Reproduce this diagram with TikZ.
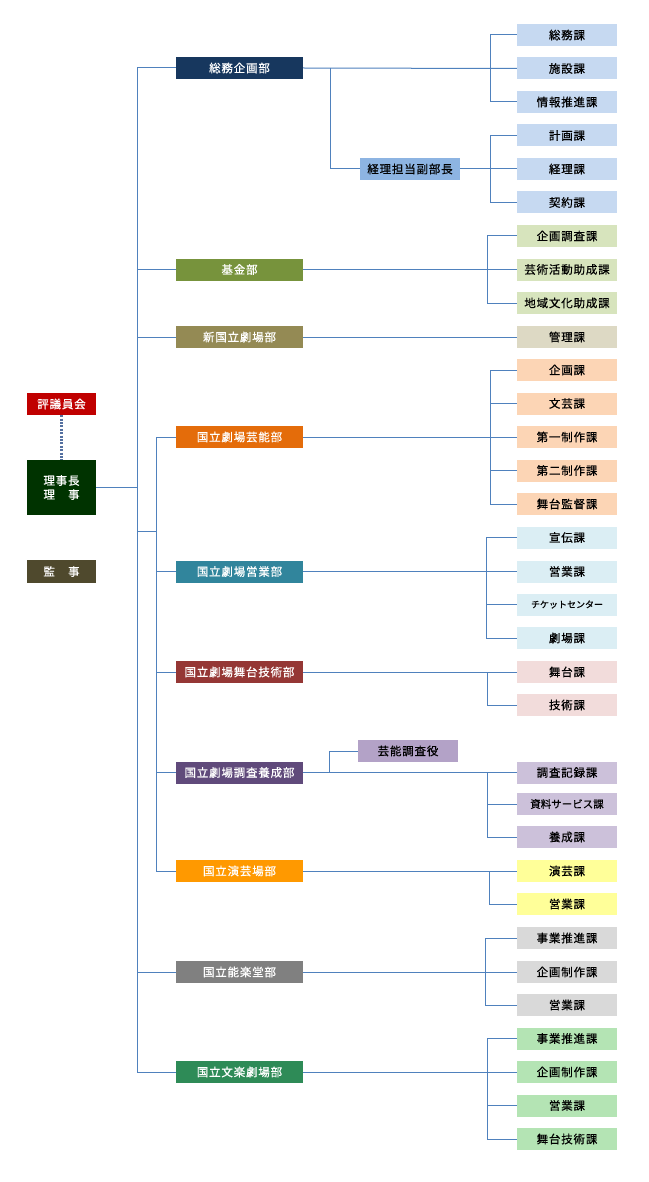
\documentclass[tikz,border=0pt]{standalone}
\usepackage{fontspec}
\newfontfamily\jp{Noto Sans CJK JP}[LetterSpace=7, FakeBold=0.5]
\newfontfamily\jpnarrow{Noto Sans CJK JP}[FakeBold=0.5]
\definecolor{linkblue}{RGB}{79,129,189}
\definecolor{dotblue}{RGB}{84,112,160}
\tikzset{
    dept/.style={minimum width=127pt, minimum height=22pt, inner sep=0pt, text=white, font=\jp\fontsize{11.5}{13}\selectfont},
    sect/.style={minimum width=100pt, minimum height=22pt, inner sep=0pt, text=black, font=\jp\fontsize{11.5}{13}\selectfont},
    top/.style={minimum width=69pt, inner sep=0pt, text=white, font=\jp\fontsize{11.5}{14}\selectfont, align=center},
    link/.style={draw=linkblue, line width=1pt},
}
\begin{document}
\begin{tikzpicture}[x=1pt, y=-1pt]
    \useasboundingbox[fill=white] (0,0) rectangle (648,1182);
    % Left column
    \node[top, fill={rgb,255:red,192;green,0;blue,0}, minimum height=22pt] (hyogi) at (61.5,404) {評議員会};
    \node[top, fill={rgb,255:red,0;green,51;blue,0}, minimum height=55pt] (riji) at (61.5,487.5) {理事長\\理　事};
    \node[top, fill={rgb,255:red,79;green,73;blue,45}, minimum height=23pt] (kanji) at (61.5,571.5) {監　事};
    \draw[dotblue, line width=2.2pt, dash pattern=on 2pt off 1.4pt] (hyogi.south) -- (riji.north);
    % Departments
    \foreach \name/\y/\r/\g/\b/\txt in {
        somu/68/23/55/94/総務企画部,
        kikin/269.5/119/147/60/基金部,
        shinkoku/337/148/138/84/新国立劇場部,
        geino/437/228/108/10/国立劇場芸能部,
        eigyo/571.5/49/133/156/国立劇場営業部,
        butai/672/149/55/53/国立劇場舞台技術部,
        chosa/772.5/96/74/123/国立劇場調査養成部,
        engei/871/255/153/0/国立演芸場部,
        nogaku/972/128/128/128/国立能楽堂部,
        bunraku/1072/46/139/87/国立文楽劇場部} {
        \node[dept, fill={rgb,255:red,\r;green,\g;blue,\b}] (\name) at (239.5,\y) {\txt};
    }
    \node[sect, fill={rgb,255:red,141;green,180;blue,226}] (fukubu) at (410,169) {経理担当副部長};
    \node[sect, fill={rgb,255:red,179;green,162;blue,199}] (chosayaku) at (408,751) {芸能調査役};
    % Sections
    \foreach \name/\y/\r/\g/\b/\txt in {
        s1/35/198/217/241/総務課, s2/68.5/198/217/241/施設課, s3/102/198/217/241/情報推進課,
        s4/135.5/198/217/241/計画課, s5/169/198/217/241/経理課, s6/202.5/198/217/241/契約課,
        s7/236/215/228/189/企画調査課, s8/269.5/215/228/189/芸術活動助成課, s9/303/215/228/189/地域文化助成課,
        s10/337/221/217/196/管理課,
        s11/370/252/213/181/企画課, s12/403.5/252/213/181/文芸課, s13/437/252/213/181/第一制作課,
        s14/470.5/252/213/181/第二制作課, s15/504/252/213/181/舞台監督課,
        s16/537.5/219/238/244/宣伝課, s17/571.5/219/238/244/営業課, s19/638/219/238/244/劇場課,
        s20/672/242/220/219/舞台課, s21/705/242/220/219/技術課,
        s22/772.5/204/193/218/調査記録課, s24/837/204/193/218/養成課,
        s25/871/255/255/153/演芸課, s26/904/255/255/153/営業課,
        s27/938/217/217/217/事業推進課, s28/972/217/217/217/企画制作課, s29/1005/217/217/217/営業課,
        s30/1038.5/180/228/180/事業推進課, s31/1072/180/228/180/企画制作課,
        s32/1105.5/180/228/180/営業課, s33/1139/180/228/180/舞台技術課} {
        \node[sect, fill={rgb,255:red,\r;green,\g;blue,\b}] (\name) at (567,\y) {\txt};
    }
    \node[sect, fill={rgb,255:red,219;green,238;blue,244}, font=\jpnarrow\fontsize{9}{10}\selectfont] (s18) at (567,604.5) {チケットセンター};
    \node[sect, fill={rgb,255:red,204;green,193;blue,218}, font=\jpnarrow\fontsize{10.5}{12}\selectfont] (s23) at (567,804) {資料サービス課};
    % Trunk
    \draw[link] (somu.west) -- ++(-38,0) coordinate (trunk) |- (bunraku.west);
    \foreach \d in {kikin, shinkoku, nogaku} {
        \draw[link] (\d.west) -- (\d.west -| trunk);
    }
    \draw[link] (riji.east) -- (riji.east -| trunk);
    \draw[link] (geino.west) -- ++(-19,0) coordinate (subtrunk) |- (engei.west);
    \foreach \d in {eigyo, butai, chosa} {
        \draw[link] (\d.west) -- (\d.west -| subtrunk);
    }
    \coordinate (join) at (138,531);
    \draw[link] (join) -- (join -| subtrunk);
    % Department to section lines
    \foreach \d/\s in {somu/s2, kikin/s8, shinkoku/s10, geino/s13, eigyo/s17, butai/s20, chosa/s22, engei/s25, nogaku/s28, bunraku/s31, fukubu/s5} {
        \draw[link] (\d.east) -- (\s.west);
    }
    \coordinate (kbr) at (330,68);
    \draw[link] (kbr) |- (fukubu.west);
    \coordinate (cbr) at (329,772.5);
    \draw[link] (cbr) |- (chosayaku.west);
    % Brackets
    \foreach \a/\b/\x in {s1/s3/490, s4/s6/490, s7/s9/487, s11/s15/490, s16/s19/486, s20/s21/487, s22/s24/487, s25/s26/489, s27/s29/485, s30/s33/487} {
        \draw[link] (\a.west) -| (\x,0 |- \a.west) |- (\b.west);
    }
    \foreach \s/\x in {s12/490, s14/490, s18/486, s23/487, s32/487} {
        \draw[link] (\s.west) -- (\x,0 |- \s.west);
    }
\end{tikzpicture}
\end{document}
